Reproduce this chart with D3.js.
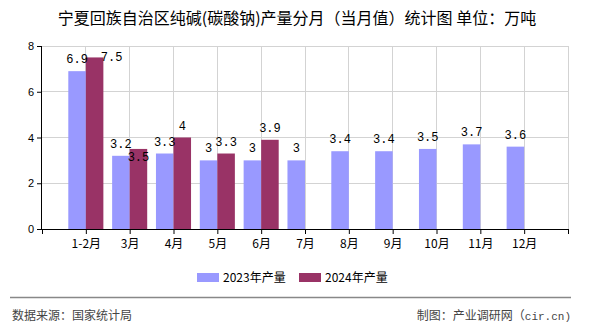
<!DOCTYPE html>
<html><head><meta charset="utf-8">
<script src="https://cdn.jsdelivr.net/npm/d3@7/dist/d3.min.js"></script>
<style>
body{margin:0;background:#fff;}
svg{display:block;}
text{font-family:"Noto Sans CJK SC","Noto Sans",sans-serif;}
</style></head>
<body><svg id="c" width="590" height="330"></svg>
<script>
const categories = ["1-2月","3月","4月","5月","6月","7月","8月","9月","10月","11月","12月"];
const values2023 = [6.9,3.2,3.3,3,3,3,3.4,3.4,3.5,3.7,3.6];
const values2024 = [7.5,3.5,4,3.3,3.9,null,null,null,null,null,null];
const seriesNames = ["2023年产量","2024年产量"];
const yTicks = [0,2,4,6,8];

const colors = ["#9999FF","#993366"];
const svg = d3.select("#c");
const L = 42, R = 568, T = 46, B = 229;

const x = d3.scalePoint().domain(["_s", ...categories, "_e"]).range([L, R]);
const step = x.step();
const bw = step * 0.4;
const y = d3.scaleLinear().domain([0, 8]).range([B, T]);

// title
svg.append("text").attr("x", 297).attr("y", 24).attr("text-anchor", "middle")
  .style("font-size", "16px").style("font-weight", "normal").attr("fill", "#000")
  .text("宁夏回族自治区纯碱(碳酸钠)产量分月（当月值）统计图 单位：万吨");

// grid
const g = svg.append("g");
g.selectAll(".hg").data(yTicks.filter(d => d > 0)).join("line")
  .attr("x1", L).attr("x2", R).attr("y1", d => y(d)).attr("y2", d => y(d))
  .attr("stroke", "#d3d3d3").attr("stroke-width", 1).attr("shape-rendering", "crispEdges");
g.selectAll(".vg").data(x.domain().slice(1)).join("line")
  .attr("x1", d => x(d)).attr("x2", d => x(d)).attr("y1", T).attr("y2", B)
  .attr("stroke", "#d3d3d3").attr("stroke-width", 1).attr("shape-rendering", "crispEdges");

// bars
const series = [values2023, values2024];
series.forEach((vals, si) => {
  svg.append("g").selectAll("rect").data(categories.map((c, i) => ({c, v: vals[i]})).filter(d => d.v != null))
    .join("rect")
    .attr("x", d => x(d.c) - bw + si * bw)
    .attr("width", bw)
    .attr("y", d => y(d.v))
    .attr("height", d => B - y(d.v))
    .attr("fill", colors[si]);
});

// labels
series.forEach((vals, si) => {
  svg.append("g").selectAll("text").data(categories.map((c, i) => ({c, v: vals[i], i})).filter(d => d.v != null))
    .join("text")
    .attr("x", d => {
      let cx = x(d.c) - bw / 2 + si * bw;
      if (si === 1 && d.i === 0) cx += 17;
      return cx;
    })
    .attr("y", d => {
      if (si === 1 && d.i === 0) return y(d.v) + 4;
      if (si === 1 && d.i === 1) return y(d.v) + 12;
      return y(d.v) - 8;
    })
    .attr("text-anchor", "middle")
    .style("font-family", "'Liberation Mono','DejaVu Sans Mono',monospace")
    .style("font-size", "12px").attr("fill", "#000")
    .text(d => d.v);
});

// axes
const xAxis = d3.axisBottom(x).tickSize(5).tickFormat(d => d.startsWith("_") ? "" : d);
const xg = svg.append("g").attr("transform", `translate(0,${B})`).call(xAxis);
xg.select(".domain").attr("stroke", "#000").attr("d", `M${L},0.5H${R}`);
xg.selectAll(".tick line").attr("stroke", "#000");
xg.selectAll(".tick text").attr("dy", "0.9em").style("font-size", "12px").attr("fill", "#000")
  .style("font-family", "'Noto Sans CJK SC',sans-serif");

const yAxis = d3.axisLeft(y).tickValues(yTicks).tickSize(5).tickFormat(d3.format("d"));
const yg = svg.append("g").attr("transform", `translate(${L},0)`).call(yAxis);
yg.select(".domain").attr("stroke", "#000").attr("d", `M-0.5,${T}V${B}`);
yg.selectAll(".tick line").attr("stroke", "#000");
yg.selectAll(".tick text").style("font-size", "11px").attr("fill", "#000").attr("x", -8)
  .style("font-family", "'Liberation Sans',sans-serif");

// legend
const leg = svg.append("g");
const legX = [197, 299];
seriesNames.forEach((n, i) => {
  leg.append("rect").attr("x", legX[i]).attr("y", 273).attr("width", 22).attr("height", 9).attr("fill", colors[i]);
  leg.append("text").attr("x", legX[i] + 26).attr("y", 282).style("font-size", "12px").attr("fill", "#000").text(n);
});

// footer
svg.append("line").attr("x1", 10).attr("x2", 571).attr("y1", 297.5).attr("y2", 297.5).attr("stroke", "#888").attr("stroke-width", 1.5);
svg.append("text").attr("x", 12).attr("y", 320).style("font-size", "12px").attr("fill", "#444").text("数据来源：国家统计局");
const ft = svg.append("text").attr("x", 571).attr("y", 320).attr("text-anchor", "end").style("font-size", "12px").attr("fill", "#444");
ft.append("tspan").text("制图：产业调研网（");
ft.append("tspan").style("font-family", "'Liberation Mono',monospace").style("font-size", "11px").text("cir.cn)");
</script></body></html>
